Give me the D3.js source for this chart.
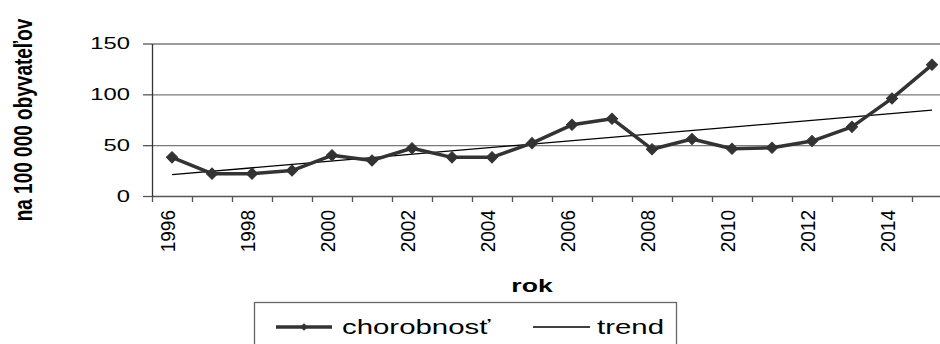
<!DOCTYPE html>
<html>
<head>
<meta charset="utf-8">
<script src="https://cdn.jsdelivr.net/npm/d3@7"></script>
<style>
	body { margin: 0; background: #fff; }
	svg { display: block; font-family: "Liberation Sans", Arial, sans-serif; }
</style>
</head>
<body>
<div id="chart"></div>
<script>
const years = [1996, 1997, 1998, 1999, 2000, 2001, 2002, 2003, 2004, 2005,
		2006, 2007, 2008, 2009, 2010, 2011, 2012, 2013, 2014, 2015],
	morbidity = [38, 22, 22, 25, 40, 35, 47, 38, 38, 52,
		70, 76, 46, 56, 46.5, 47.5, 54, 68, 96, 129],
	// linear trend (first and last year)
	trendYears = [1996, 2015],
	trendValues = [21, 84.5],
	yTicks = [0, 50, 100, 150],
	gridTicks = [50, 100, 150],
	labelYears = [1996, 1998, 2000, 2002, 2004, 2006, 2008, 2010, 2012, 2014],
	seriesName = "chorobnosť",
	trendName = "trend",
	yTitle = "na 100 000 obyvateľov",
	xTitle = "rok";

const width = 940,
	height = 344,
	plotLeft = 152,
	bandW = 40,
	plotTop = 43.5,
	plotBottom = 196,
	sx = 1.4,
	seriesColor = "#333333";

const svg = d3.select("#chart")
	.append("svg")
		.attr("width", width)
		.attr("height", height);

const x = d3.scaleBand()
	.domain(years)
	.range([plotLeft, plotLeft + bandW * years.length]);

const xc = (d) => x(d) + x.bandwidth() / 2;

const xEdge = d3.scaleLinear()
	.domain([years[0] - 0.5, years[years.length - 1] + 0.5])
	.range(x.range());

const y = d3.scaleLinear()
	.domain([0, 150])
	.range([plotBottom, plotTop]);

// square turned by 45 degrees = Excel diamond marker
const diamond = (size) => d3.symbol(d3.symbolSquare, size)();

// Gridlines

svg.append("g")
	.attr("transform", `translate(${plotLeft},0)`)
	.call(d3.axisLeft(y).tickValues(gridTicks).tickSize(-(width - plotLeft)).tickFormat(""))
	.call(g => g.select(".domain").remove())
	.call(g => g.selectAll("line").attr("stroke", "#7a7a7a").attr("stroke-width", 1.3));

// X axis tick marks at category edges

svg.append("g")
	.attr("transform", `translate(0,${plotBottom})`)
	.call(d3.axisBottom(xEdge)
		.tickValues(years.map(d => d - 0.5))
		.tickSize(6)
		.tickSizeOuter(0)
		.tickFormat(""))
	.call(g => g.select(".domain").attr("stroke", "#555").attr("stroke-width", 1.3))
	.call(g => g.selectAll("line").attr("stroke", "#555").attr("stroke-width", 1.3));

// X labels

svg.append("g")
	.attr("transform", `translate(0,${plotBottom})`)
	.call(d3.axisBottom(x).tickValues(labelYears).tickSize(0))
	.call(g => g.select(".domain").remove())
	.call(g => g.selectAll("text")
		.attr("x", null)
		.attr("y", null)
		.attr("dy", null)
		.attr("text-anchor", "end")
		.attr("transform", "translate(2.5,14) scale(1.08,1) rotate(-90)")
		.attr("fill", "#000")
		.style("font-size", "19px")
		.style("font-family", "'Liberation Sans', Arial, sans-serif"));

// Y axis

svg.append("g")
	.attr("transform", `translate(${plotLeft},0)`)
	.call(d3.axisLeft(y).tickValues(yTicks).tickSize(9).tickSizeOuter(0))
	.call(g => g.select(".domain").attr("stroke", "#333").attr("stroke-width", 1.3))
	.call(g => g.selectAll("line").attr("stroke", "#555").attr("stroke-width", 1.3))
	.call(g => g.selectAll("text")
		.attr("x", -22 / sx)
		.attr("dy", "0.32em")
		.attr("transform", `scale(${sx},1)`)
		.attr("fill", "#000")
		.style("font-size", "17px")
		.style("font-family", "'Liberation Sans', Arial, sans-serif"));

// Trend line

svg.append("path")
	.datum(trendYears.map((d, i) => [d, trendValues[i]]))
	.attr("fill", "none")
	.attr("stroke", "#000")
	.attr("stroke-width", 1.3)
	.attr("d", d3.line().x(d => xc(d[0])).y(d => y(d[1])));

// Series

const data = years.map((d, i) => ({year: d, value: morbidity[i]}));

svg.append("path")
	.datum(data)
	.attr("fill", "none")
	.attr("stroke", seriesColor)
	.attr("stroke-width", 3.5)
	.attr("stroke-linejoin", "round")
	.attr("d", d3.line().x(d => xc(d.year)).y(d => y(d.value)));

svg.append("g")
	.selectAll("path")
		.data(data)
		.enter()
		.append("path")
			.attr("transform", d => `translate(${xc(d.year)},${y(d.value)}) rotate(45)`)
			.attr("d", diamond(62))
			.attr("fill", seriesColor)
			.attr("stroke", seriesColor);

// Axis titles

svg.append("g")
	.attr("transform", `translate(32,120) scale(${sx},1) rotate(-90)`)
	.append("text")
		.attr("text-anchor", "middle")
		.style("font-size", "19px")
		.style("font-weight", "bold")
		.text(yTitle);

svg.append("g")
	.attr("transform", `translate(532,291.5) scale(${sx},1)`)
	.append("text")
		.attr("text-anchor", "middle")
		.style("font-size", "19px")
		.style("font-weight", "bold")
		.text(xTitle);

// Legend

const legend = svg.append("g");

legend.append("rect")
	.attr("x", 254.5)
	.attr("y", 302.5)
	.attr("width", 422)
	.attr("height", 60)
	.attr("fill", "none")
	.attr("stroke", "#666")
	.attr("stroke-width", 1.3);

legend.append("line")
	.attr("x1", 276).attr("x2", 332)
	.attr("y1", 327).attr("y2", 327)
	.attr("stroke", seriesColor)
	.attr("stroke-width", 3.5);

legend.append("path")
	.attr("transform", "translate(304,327) rotate(45)")
	.attr("d", diamond(30))
	.attr("fill", seriesColor);

legend.append("g")
	.attr("transform", `translate(342,334) scale(${sx},1)`)
	.append("text")
		.style("font-size", "21px")
		.text(seriesName);

legend.append("line")
	.attr("x1", 533).attr("x2", 590)
	.attr("y1", 327).attr("y2", 327)
	.attr("stroke", "#000")
	.attr("stroke-width", 1.3);

legend.append("g")
	.attr("transform", `translate(597,334) scale(${sx},1)`)
	.append("text")
		.style("font-size", "21px")
		.text(trendName);
</script>
</body>
</html>
